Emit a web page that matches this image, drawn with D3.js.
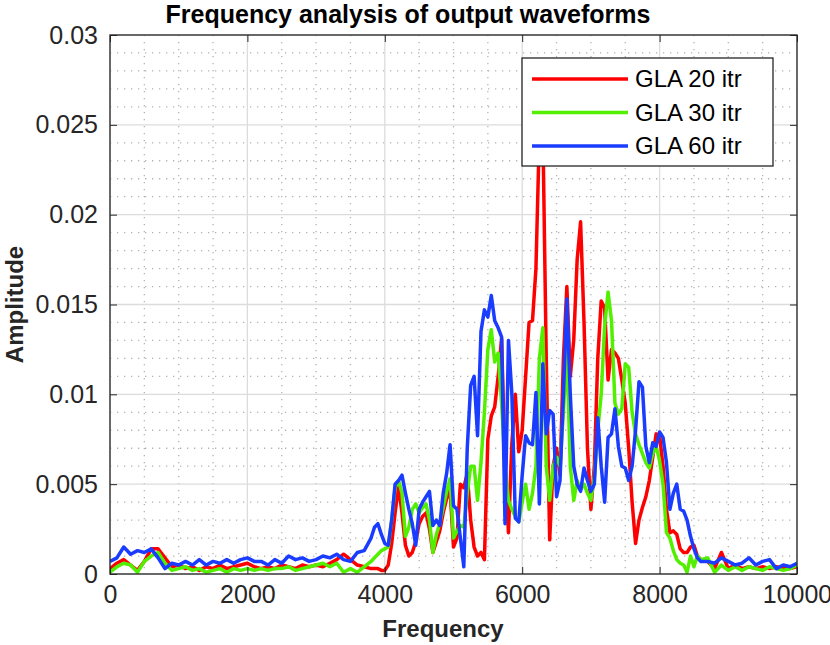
<!DOCTYPE html>
<html>
<head>
<meta charset="utf-8">
<script src="https://cdn.jsdelivr.net/npm/d3@7"></script>
<style>
  body { margin: 0; background: #fff; }
  svg { display: block; font-family: "Liberation Sans", Arial, sans-serif; }
</style>
</head>
<body>
<svg id="chart" width="830" height="645"></svg>
<script>
// Frequency grid (Hz)
const freq = [
  0, 100, 200, 300, 400, 500, 600, 700, 800, 900, 1000, 1100, 1200, 1300, 1400, 1500, 1600, 1700, 1800, 1900,
  2000, 2100, 2200, 2300, 2400, 2500, 2600, 2700, 2800, 2900, 3000, 3100, 3200, 3300, 3400, 3500, 3600, 3700, 3800,
  3850, 3900, 3950, 4000, 4050, 4100, 4150, 4200, 4250, 4300, 4350, 4400, 4450, 4500, 4550, 4600, 4650, 4700, 4750, 4800,
  4850, 4900, 4950, 5000, 5050, 5100, 5150, 5200, 5250, 5300, 5350, 5400, 5450, 5500, 5550, 5600, 5650, 5700, 5750, 5800,
  5850, 5900, 5950, 6000, 6050, 6100, 6150, 6200, 6250, 6300, 6350, 6400, 6450, 6500, 6550, 6600, 6650, 6700, 6750, 6800,
  6850, 6900, 6950, 7000, 7050, 7100, 7150, 7200, 7250, 7300, 7350, 7400, 7450, 7500, 7550, 7600, 7650, 7700, 7750, 7800,
  7850, 7900, 7950, 8000, 8050, 8100, 8150, 8200, 8250, 8300, 8350, 8400, 8450, 8500, 8550, 8600,
  8700, 8800, 8900, 9000, 9100, 9200, 9300, 9400, 9500, 9600, 9700, 9800, 9900, 10000
];

const gla20 = [
  0.0003, 0.0006, 0.0008, 0.0005, 0.0002, 0.0007, 0.0014, 0.0014, 0.0009, 0.0004, 0.0005, 0.0003, 0.0004, 0.0002, 0.0004, 0.0003, 0.0005, 0.0003, 0.0004, 0.0005,
  0.0006, 0.0004, 0.0003, 0.0004, 0.0003, 0.0005, 0.0004, 0.0003, 0.0005, 0.0004, 0.0005, 0.0004, 0.0006, 0.0008, 0.0011, 0.0008, 0.0005, 0.0004, 0.0003,
  0.0003, 0.0003, 0.0002, 0.0002, 0.0005, 0.0017, 0.0034, 0.0049, 0.0034, 0.0016, 0.0010, 0.0012, 0.0018, 0.0028, 0.0032, 0.0034, 0.0025, 0.0012, 0.0018, 0.0024,
  0.0034, 0.0042, 0.0047, 0.0015, 0.0020, 0.0050, 0.0048, 0.0056, 0.0030, 0.0015, 0.0010, 0.0012, 0.0008, 0.0075, 0.0088, 0.0093, 0.0110, 0.0131, 0.0060, 0.0023,
  0.0073, 0.0100, 0.0068, 0.0080, 0.0110, 0.0140, 0.0141, 0.0170, 0.0245, 0.0250, 0.0120, 0.0019, 0.0060, 0.0070, 0.0055, 0.0120, 0.0160, 0.0110, 0.0130, 0.0175,
  0.0196, 0.0140, 0.0070, 0.0036, 0.0060, 0.0120, 0.0152, 0.0148, 0.0108, 0.0125, 0.0123, 0.0120, 0.0108, 0.0095, 0.0070, 0.0040, 0.0017, 0.0030, 0.0037, 0.0043,
  0.0052, 0.0065, 0.0078, 0.0077, 0.0060, 0.0036, 0.0023, 0.0024, 0.0022, 0.0014, 0.0012, 0.0012, 0.0015, 0.0016, 0.0010, 0.0008,
  0.0007, 0.0003, 0.0012, 0.0003, 0.0005, 0.0003, 0.0004, 0.0003, 0.0004, 0.0003, 0.0004, 0.0003, 0.0003, 0.0004
];

const gla30 = [
  0.0001, 0.0004, 0.0006, 0.0005, 0.0001, 0.0007, 0.0010, 0.0012, 0.0006, 0.0002, 0.0003, 0.0004, 0.0002, 0.0003, 0.0001, 0.0002, 0.0003, 0.0001, 0.0003, 0.0002,
  0.0003, 0.0002, 0.0003, 0.0002, 0.0003, 0.0003, 0.0004, 0.0002, 0.0003, 0.0004, 0.0005, 0.0006, 0.0004, 0.0006, 0.0001, 0.0003, 0.0001, 0.0004, 0.0007,
  0.0009, 0.0011, 0.0013, 0.0014, 0.0015, 0.0030, 0.0048, 0.0052, 0.0045, 0.0021, 0.0026, 0.0036, 0.0039, 0.0034, 0.0037, 0.0039, 0.0030, 0.0012, 0.0022, 0.0028,
  0.0037, 0.0046, 0.0053, 0.0020, 0.0024, 0.0027, 0.0026, 0.0045, 0.0060, 0.0060, 0.0041, 0.0062, 0.0090, 0.0125, 0.0136, 0.0118, 0.0123, 0.0095, 0.0060, 0.0041,
  0.0036, 0.0032, 0.0029, 0.0040, 0.0050, 0.0036, 0.0045, 0.0060, 0.0120, 0.0137, 0.0060, 0.0041, 0.0060, 0.0065, 0.0060, 0.0090, 0.0125, 0.0060, 0.0041, 0.0052,
  0.0047, 0.0050, 0.0045, 0.0041, 0.0054, 0.0080, 0.0100, 0.0138, 0.0157, 0.0141, 0.0095, 0.0089, 0.0092, 0.0117, 0.0115, 0.0090, 0.0078, 0.0072, 0.0067, 0.0062,
  0.0059, 0.0067, 0.0071, 0.0063, 0.0050, 0.0023, 0.0020, 0.0013, 0.0008, 0.0006, 0.0005, 0.0001, 0.0010, 0.0004, 0.0010, 0.0008,
  0.0009, 0.0001, 0.0005, 0.0002, 0.0004, 0.0002, 0.0004, 0.0003, 0.0002, 0.0004, 0.0003, 0.0002, 0.0003, 0.0005
];

const gla60 = [
  0.0007, 0.0009, 0.0015, 0.0011, 0.0013, 0.0012, 0.0014, 0.0009, 0.0003, 0.0006, 0.0005, 0.0007, 0.0005, 0.0008, 0.0005, 0.0007, 0.0006, 0.0008, 0.0006, 0.0008,
  0.0009, 0.0007, 0.0007, 0.0005, 0.0008, 0.0006, 0.0010, 0.0008, 0.0009, 0.0007, 0.0008, 0.0010, 0.0009, 0.0011, 0.0008, 0.0007, 0.0012, 0.0013, 0.0020,
  0.0026, 0.0028, 0.0022, 0.0017, 0.0016, 0.0030, 0.0050, 0.0052, 0.0055, 0.0045, 0.0036, 0.0028, 0.0016, 0.0036, 0.0040, 0.0043, 0.0046, 0.0027, 0.0030, 0.0027,
  0.0045, 0.0056, 0.0072, 0.0038, 0.0036, 0.0020, 0.0004, 0.0070, 0.0105, 0.0110, 0.0077, 0.0135, 0.0147, 0.0143, 0.0155, 0.0141, 0.0137, 0.0132, 0.0028, 0.0130,
  0.0100, 0.0031, 0.0029, 0.0055, 0.0077, 0.0073, 0.0072, 0.0101, 0.0039, 0.0117, 0.0078, 0.0091, 0.0089, 0.0043, 0.0052, 0.0100, 0.0153, 0.0100, 0.0060, 0.0050,
  0.0046, 0.0059, 0.0052, 0.0046, 0.0050, 0.0087, 0.0060, 0.0040, 0.0076, 0.0078, 0.0092, 0.0071, 0.0060, 0.0059, 0.0052, 0.0060, 0.0080, 0.0107, 0.0104, 0.0071,
  0.0062, 0.0073, 0.0071, 0.0079, 0.0076, 0.0062, 0.0036, 0.0045, 0.0050, 0.0036, 0.0035, 0.0030, 0.0021, 0.0014, 0.0009, 0.0007,
  0.0007, 0.0006, 0.0009, 0.0007, 0.0005, 0.0006, 0.0009, 0.0005, 0.0007, 0.0008, 0.0003, 0.0005, 0.0004, 0.0006
];

const seriesNames = ["GLA 20 itr", "GLA 30 itr", "GLA 60 itr"];
const seriesColors = ["#ff0000", "#52f000", "#1a3cff"];
const xTicks = [0, 2000, 4000, 6000, 8000, 10000];
const yTicks = [0, 0.005, 0.01, 0.015, 0.02, 0.025, 0.03];

const svg = d3.select("#chart");
const margin = {top: 35, right: 33, bottom: 71, left: 110};
const width = 830 - margin.left - margin.right;
const height = 645 - margin.top - margin.bottom;
const axisColor = "#262626";

const x = d3.scaleLinear().domain([0, 10000]).range([0, width]);
const y = d3.scaleLinear().domain([0, 0.03]).range([height, 0]);

const g = svg.append("g").attr("transform", `translate(${margin.left},${margin.top})`);

// minor grid (dotted)
const xMinor = d3.range(0, 10001, 500).filter(d => d % 2000 !== 0);
const yMinor = d3.range(0, 31, 1).map(d => d / 1000).filter((d, i) => i % 5 !== 0);
g.append("g").selectAll("line").data(xMinor).join("line")
  .attr("x1", d => x(d)).attr("x2", d => x(d)).attr("y1", 0).attr("y2", height)
  .attr("stroke", "#b3b3b3").attr("stroke-width", 1.3).attr("stroke-dasharray", "1.3,5.7");
g.append("g").selectAll("line").data(yMinor).join("line")
  .attr("y1", d => y(d)).attr("y2", d => y(d)).attr("x1", 0).attr("x2", width)
  .attr("stroke", "#b3b3b3").attr("stroke-width", 1.3).attr("stroke-dasharray", "1.3,5.7");

// major grid
g.append("g").selectAll("line").data(xTicks).join("line")
  .attr("x1", d => x(d)).attr("x2", d => x(d)).attr("y1", 0).attr("y2", height)
  .attr("stroke", "#dcdcdc").attr("stroke-width", 1.3);
g.append("g").selectAll("line").data(yTicks).join("line")
  .attr("y1", d => y(d)).attr("y2", d => y(d)).attr("x1", 0).attr("x2", width)
  .attr("stroke", "#dcdcdc").attr("stroke-width", 1.3);

// lines
svg.append("defs").append("clipPath").attr("id", "plotClip")
  .append("rect").attr("width", width).attr("height", height);

const series = [gla20, gla30, gla60];
const line = d3.line().x((d, i) => x(freq[i])).y(d => y(d));
g.append("g").attr("clip-path", "url(#plotClip)")
  .selectAll("path").data(series).join("path")
  .attr("d", line)
  .attr("fill", "none")
  .attr("stroke", (d, i) => seriesColors[i])
  .attr("stroke-width", 3.5)
  .attr("stroke-linejoin", "round");

// axes
const fmtY = d => d === 0 ? "0" : String(d);
const styleAxis = sel => {
  sel.select(".domain").remove();
  sel.selectAll("line").attr("stroke", axisColor);
  sel.selectAll("text").attr("fill", axisColor).style("font-size", "25px");
};
g.append("g").attr("transform", `translate(0,${height})`)
  .call(d3.axisBottom(x).tickValues(xTicks).tickSize(-7).tickPadding(11).tickFormat(d3.format("d")))
  .call(styleAxis);
g.append("g").call(d3.axisTop(x).tickValues(xTicks).tickSize(-7).tickFormat(""))
  .call(styleAxis);
g.append("g")
  .call(d3.axisLeft(y).tickValues(yTicks).tickSize(-7).tickPadding(12).tickFormat(fmtY))
  .call(styleAxis);
g.append("g").attr("transform", `translate(${width},0)`)
  .call(d3.axisRight(y).tickValues(yTicks).tickSize(-7).tickFormat(""))
  .call(styleAxis);

g.append("rect").attr("width", width).attr("height", height)
  .attr("fill", "none").attr("stroke", axisColor).attr("stroke-width", 1.3);

// labels
svg.append("text").attr("x", 408).attr("y", 23)
  .attr("text-anchor", "middle").attr("font-weight", "bold").style("font-size", "25px")
  .attr("fill", "#000").text("Frequency analysis of output waveforms");
svg.append("text").attr("x", 443).attr("y", 637)
  .attr("text-anchor", "middle").attr("font-weight", "bold").style("font-size", "24px")
  .attr("fill", axisColor).text("Frequency");
svg.append("text").attr("transform", `translate(23,${margin.top + height / 2}) rotate(-90)`)
  .attr("text-anchor", "middle").attr("font-weight", "bold").style("font-size", "24px")
  .attr("fill", axisColor).text("Amplitude");

// legend
const legend = svg.append("g").attr("transform", "translate(522,58)");
legend.append("rect").attr("width", 251).attr("height", 108)
  .attr("fill", "#fff").attr("stroke", axisColor).attr("stroke-width", 1.3);
const entry = legend.selectAll("g.entry").data(seriesNames).join("g")
  .attr("class", "entry")
  .attr("transform", (d, i) => `translate(0,${21 + i * 33.5})`);
entry.append("line").attr("x1", 10).attr("x2", 106)
  .attr("stroke", (d, i) => seriesColors[i]).attr("stroke-width", 3.5);
entry.append("text").attr("x", 113).attr("dy", "0.35em")
  .style("font-size", "24px").attr("fill", "#000").text(d => d);
</script>
</body>
</html>
